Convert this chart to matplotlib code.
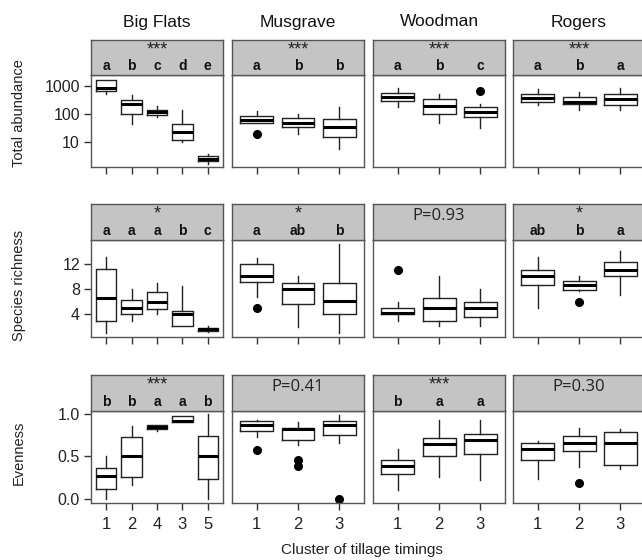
import matplotlib
matplotlib.use('Agg')
import matplotlib.pyplot as plt
from matplotlib.transforms import blended_transform_factory

plt.rcParams['font.family'] = ['Liberation Sans', 'DejaVu Sans']

# ---------------- data (whislo, q1, median, q3, whishi) ----------------
sites = ["Big Flats", "Musgrave", "Woodman", "Rogers"]
row_labels = ["Total abundance", "Species richness", "Evenness"]
xticks_bigflats = ["1", "2", "4", "3", "5"]
xticks_other = ["1", "2", "3"]

bf_abund = [[505, 680, 870, 1640, 1640], [44, 100, 222, 316, 477], [76, 92, 115, 139, 193],
            [9.7, 11.8, 23, 43, 139], [1.7, 2.1, 2.4, 3.16, 3.6]]
bf_abund_out = [[], [], [], [], []]
mg_abund = [[46, 46, 61, 84, 128], [19, 33, 49, 70, 97], [5.6, 14.7, 35, 65, 182]]
mg_abund_out = [[19], [], []]
wd_abund = [[182, 298, 415, 549, 826], [46, 97, 193, 343, 518], [32, 80, 115, 174, 222]]
wd_abund_out = [[], [], [680]]
rg_abund = [[215, 262, 382, 505, 780], [139, 228, 275, 415, 595], [139, 205, 335, 505, 826]]
rg_abund_out = [[], [], []]

bf_rich = [[1, 2.9, 6.5, 11.2, 13], [3, 4, 5, 6.3, 8], [4, 4.8, 6, 7.5, 9],
           [2.1, 2.1, 4, 4.6, 8.5], [1.3, 1.45, 1.65, 1.9, 2.1]]
bf_rich_out = [[], [], [], [], []]
mg_rich = [[6.8, 9.1, 10, 11.9, 12.8], [2, 5.7, 8, 9, 10], [1, 4, 6.1, 9, 15]]
mg_rich_out = [[5], [], []]
wd_rich = [[3, 4, 4.2, 5, 6], [2.2, 3, 5, 6.5, 10], [2.2, 3.6, 5, 6, 8]]
wd_rich_out = [[11], [], []]
rg_rich = [[5, 8.6, 10, 11, 13], [7.6, 7.9, 8.6, 9.3, 10], [7, 10, 11, 12.3, 14]]
rg_rich_out = [[], [6], []]

bf_even = [[0, 0.12, 0.27, 0.36, 0.5], [0.16, 0.25, 0.5, 0.72, 0.85], [0.79, 0.82, 0.84, 0.86, 0.87],
           [0.9, 0.9, 0.91, 0.97, 0.97], [0, 0.235, 0.5, 0.74, 0.99]]
bf_even_out = [[], [], [], [], []]
mg_even = [[0.73, 0.80, 0.86, 0.91, 0.93], [0.63, 0.69, 0.82, 0.835, 0.9], [0.66, 0.75, 0.86, 0.91, 0.98]]
mg_even_out = [[0.57], [0.45, 0.39], [0.0]]
wd_even = [[0.1, 0.29, 0.39, 0.46, 0.58], [0.25, 0.5, 0.64, 0.71, 0.92], [0.22, 0.52, 0.69, 0.76, 0.92]]
wd_even_out = [[], [], []]
rg_even = [[0.235, 0.45, 0.58, 0.65, 0.68], [0.37, 0.56, 0.65, 0.74, 0.83], [0.345, 0.40, 0.65, 0.78, 0.815]]
rg_even_out = [[], [0.18], []]

# strip annotations: (significance text, letters)
strip_abund = [("***", ["a", "b", "c", "d", "e"]), ("***", ["a", "b", "b"]),
               ("***", ["a", "b", "c"]), ("***", ["a", "b", "a"])]
strip_rich = [("*", ["a", "a", "a", "b", "c"]), ("*", ["a", "ab", "b"]),
              ("P=0.93", []), ("*", ["ab", "b", "a"])]
strip_even = [("***", ["b", "b", "a", "a", "b"]), ("P=0.41", []),
              ("***", ["b", "a", "a"]), ("P=0.30", [])]

rows = [
    ([bf_abund, mg_abund, wd_abund, rg_abund], [bf_abund_out, mg_abund_out, wd_abund_out, rg_abund_out], strip_abund),
    ([bf_rich, mg_rich, wd_rich, rg_rich], [bf_rich_out, mg_rich_out, wd_rich_out, rg_rich_out], strip_rich),
    ([bf_even, mg_even, wd_even, rg_even], [bf_even_out, mg_even_out, wd_even_out, rg_even_out], strip_even),
]

# ---------------- layout (pixels) ----------------
W, H = 642, 560
fig = plt.figure(figsize=(W / 100, H / 100), dpi=100)

col_x = [(91, 223), (232, 364), (373, 505), (513, 645)]
row_y = [(40, 75, 167), (204, 240, 337), (375, 411, 503)]  # strip top, panel top, panel bottom
row_ylabel_y = [113, 285, 453]


def px_axes(x0, y0, x1, y1):
    return fig.add_axes([x0 / W, 1 - y1 / H, (x1 - x0) / W, (y1 - y0) / H])


spine_col = '#555555'
box_col = '#222222'
strip_col = '#c4c4c4'

for r, (datasets, outsets, strips) in enumerate(rows):
    st, pt, pb = row_y[r]
    for c in range(4):
        x0, x1 = col_x[c]
        ax = px_axes(x0, pt, x1, pb)
        data = datasets[c]
        outs = outsets[c]
        n = len(data)
        stats = []
        for d, o in zip(data, outs):
            stats.append(dict(whislo=d[0], q1=d[1], med=d[2], q3=d[3], whishi=d[4], fliers=o))
        pos = list(range(1, n + 1))
        ax.bxp(stats, positions=pos, widths=0.8, showcaps=False, showfliers=True,
               boxprops=dict(color=box_col, linewidth=1.0),
               whiskerprops=dict(color=box_col, linewidth=1.0),
               medianprops=dict(color='black', linewidth=2.2),
               flierprops=dict(marker='o', markerfacecolor='black', markeredgecolor='black',
                               markersize=5.5, linestyle='none'))
        ax.set_xlim(0.4, n + 0.6)
        if r == 0:
            ax.set_yscale('log')
            ax.set_ylim(1.28, 2450)
            yt = [10, 100, 1000]
            ax.set_yticks(yt)
            ax.set_yticklabels(["10", "100", "1000"])
            ax.minorticks_off()
        elif r == 1:
            ax.set_ylim(0.44, 15.7)
            ax.set_yticks([4, 8, 12])
            ax.set_yticklabels(["4", "8", "12"])
        else:
            ax.set_ylim(-0.05, 1.03)
            ax.set_yticks([0.0, 0.5, 1.0])
            ax.set_yticklabels(["0.0", "0.5", "1.0"])
        ax.set_xticks(pos)
        labels = xticks_bigflats if c == 0 else xticks_other
        if r == 2:
            ax.set_xticklabels(labels)
        else:
            ax.set_xticklabels([])
        ax.tick_params(axis='x', length=5, width=1, color='#333333', labelsize=12, pad=5,
                       labelcolor='#222222')
        if c == 0:
            ax.tick_params(axis='y', length=5, width=1, color='#333333', labelsize=11.5, pad=3,
                           labelcolor='#222222')
        else:
            ax.tick_params(axis='y', left=False, labelleft=False)
        for s in ax.spines.values():
            s.set_color(spine_col)
            s.set_linewidth(1.0)

        # strip
        sx = px_axes(x0, st, x1, pt)
        sx.set_facecolor(strip_col)
        sx.set_xlim(0.4, n + 0.6)
        sx.set_ylim(0, 1)
        sx.set_xticks([])
        sx.set_yticks([])
        for s in sx.spines.values():
            s.set_color(spine_col)
            s.set_linewidth(1.0)
        sig, letters = strips[c]
        tr = blended_transform_factory(sx.transData, sx.transAxes)
        if sig.startswith("P="):
            sx.text(0.5, 0.66, sig, transform=sx.transAxes, ha='center', va='center',
                    fontsize=12, family=['Open Sans', 'DejaVu Sans'], color='#222222')
        else:
            sx.text(0.5, 0.60, sig, transform=sx.transAxes, ha='center', va='baseline',
                    fontsize=13, color='#222222')
            for p, l in zip(pos, letters):
                sx.text(p, 0.13, l, transform=tr, ha='center', va='baseline',
                        fontsize=10, fontweight='bold', color='#111111')

        if r == 0:
            fig.text((x0 + x1) / 2 / W, 1 - 26.5 / H, sites[c], ha='center', va='baseline',
                     fontsize=12.5, color='#111111')

    fig.text(19 / W, 1 - row_ylabel_y[r] / H, row_labels[r], rotation=90, ha='center',
             va='center', fontsize=10.5, color='#222222')

fig.text(362 / W, 1 - 550 / H, "Cluster of tillage timings", ha='center', va='center',
         fontsize=11, color='#222222')

fig.savefig('out.png', dpi=100)
